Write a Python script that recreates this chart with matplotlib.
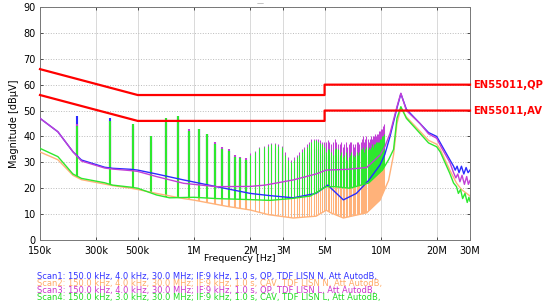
import numpy as np
import matplotlib.pyplot as plt

plt.rcParams['font.family'] = ['DejaVu Sans']

# limit lines, frequency in MHz, level in dBuV
qp_f = [0.15, 0.5, 5.0, 5.0, 30.0]
qp_db = [66, 56, 56, 60, 60]
av_f = [0.15, 0.5, 5.0, 5.0, 30.0]
av_db = [56, 46, 46, 50, 50]

# harmonic spikes of the converter (MHz)
spike_f = [0.236, 0.354, 0.472, 0.590, 0.708, 0.826, 0.944, 1.062, 1.180, 1.298,
           1.416, 1.534, 1.652, 1.770, 1.888, 2.006, 2.124, 2.242, 2.360, 2.478,
           2.596, 2.714, 2.832, 2.950, 3.068, 3.186, 3.304, 3.422, 3.540, 3.658,
           3.776, 3.894, 4.012, 4.130, 4.248, 4.366, 4.484, 4.602, 4.720, 4.838,
           4.956, 5.074, 5.192, 5.310, 5.428, 5.546, 5.664, 5.782, 5.900, 6.018,
           6.136, 6.254, 6.372, 6.490, 6.608, 6.726, 6.844, 6.962, 7.080, 7.198,
           7.316, 7.434, 7.552, 7.670, 7.788, 7.906, 8.024, 8.142, 8.260, 8.378,
           8.496, 8.614, 8.732, 8.850, 8.968, 9.086, 9.204, 9.322, 9.440, 9.558,
           9.676, 9.794, 9.912, 10.030, 10.148, 10.266, 10.384]

peak_scan1 = [48, 47, 45, 40, 47, 48, 42, 43, 41, 37, 35, 34.5, 32, 31, 31, 32.5, 34, 35, 35.5, 36,
              36, 36, 35, 35,
              30, 28, 27, 28, 29, 30,
              31, 32, 33, 34, 35, 35,
              35, 35, 34, 33, 33,
              32, 33, 33, 32, 31, 33, 33, 32,
              30, 31, 29, 30, 31, 29, 30, 31, 31, 30, 29, 30, 31, 31, 30, 31,
              32, 33, 31, 32, 33, 32, 33, 32, 33, 34, 33,
              34, 35, 35, 36, 36, 37, 37, 38, 38, 39, 40]
peak_scan2 = [42, 44, 43, 38, 45, 46, 40, 41, 39, 35, 33, 32.5, 30, 29.5, 29, 31, 32, 33.5, 34, 34.5,
              35, 35, 34.5, 34,
              31, 29, 28, 29, 30, 31,
              32, 33, 34, 35, 36, 36.5,
              36.5, 36, 35.5, 35, 34,
              32, 33, 33, 32, 31, 33, 33.5, 33,
              31, 32, 30, 31, 32, 29, 30, 31, 32, 31, 30, 31, 32, 31, 32, 33,
              33, 34, 32, 33, 34, 33, 34, 33, 34, 35, 34,
              35, 35, 36, 36, 36, 36, 37, 37, 38, 38, 39]
peak_scan3 = [45, 46, 44, 40, 46, 47, 43, 43, 41, 38, 36, 35, 33, 32, 31.5, 33.5, 34.5, 36, 36.5, 37,
              37.5, 37.5, 37, 36.5,
              34, 32, 31, 32, 33, 34,
              35, 36, 37, 38, 39, 39,
              39, 39, 38.5, 38, 38,
              38, 38.5, 38, 37, 38, 39, 38, 37,
              37, 38, 36, 37, 38, 36, 37, 38, 38, 37, 36, 37, 38, 38, 37, 38,
              39, 40, 38, 39, 40, 39, 38, 39, 40, 39, 40,
              40, 41, 40, 41, 41, 42, 42, 43, 43, 44, 45]
peak_scan4 = [44, 46, 45, 40, 47, 48, 42, 43, 41, 37, 35, 34.5, 32, 31.5, 31, 33, 34, 35.5, 36, 36.5,
              37, 37, 36.5, 36,
              33, 31, 30, 31, 32, 33,
              34, 35, 36, 37, 38, 38.5,
              38.5, 38, 37.5, 37, 36,
              34, 35, 35, 34, 33, 35, 35.5, 35,
              33, 34, 32, 33, 34, 31, 32, 33, 34, 33, 32, 33, 34, 33, 34, 35,
              35, 36, 34, 35, 36, 35, 36, 35, 36, 37, 36,
              37, 37, 38, 38, 38, 38, 39, 39, 40, 40, 41]

# trace floors (MHz, dBuV)
base1_f = [0.15, 0.187, 0.225, 0.25, 0.333, 0.367, 0.46, 0.5, 0.63, 0.88, 1.32, 2.0, 2.5, 3.4,
           4.5, 5.2, 5.6, 6.3, 7.4, 8.6, 9.9, 10.5, 11.2, 12.2, 12.8, 13.7, 16.2, 18.0, 19.9,
           21.0, 23.4, 24.5, 25.0, 25.6, 26.2, 27.0, 27.8, 28.6, 29.3, 30.0]
base1_db = [47, 41.8, 34.1, 30.9, 28.1, 27.7, 27.3, 27, 25.5, 23.2, 20.6, 18, 17.2, 16.3,
            18, 21.2, 19, 15.5, 18, 23, 29, 33, 40, 51, 56.5, 50.5, 45, 41.5, 40,
            37, 31, 28.5, 27, 28.5, 26, 28.5, 25.5, 28, 26, 27]
base2_f = [0.15, 0.187, 0.225, 0.25, 0.333, 0.367, 0.46, 0.5, 0.63, 0.88, 1.0, 1.5, 2.0, 2.5,
           3.4, 4.5, 5.1, 5.4, 6.3, 8.4, 9.9, 11.0, 11.7, 12.2, 12.8, 13.7, 16.2, 18.0, 19.9,
           20.8, 23.4, 25.4, 27.0, 30.0]
base2_db = [34, 31, 25, 23.3, 21.6, 21, 20, 19.5, 18, 16, 15.4, 13, 11.6, 9.8,
            8.5, 9.2, 11.5, 10.5, 8.5, 10.5, 15.4, 23, 33, 45, 51, 47.5, 42, 38.5, 37,
            35, 27, 22, 19.5, 17]
base3_f = [0.15, 0.187, 0.225, 0.25, 0.333, 0.367, 0.46, 0.5, 0.63, 0.88, 1.32, 2.0, 2.4, 3.4,
           4.5, 5.1, 6.6, 8.4, 9.9, 10.5, 11.2, 12.2, 12.8, 13.7, 16.2, 18.0, 19.9, 21.0, 23.4,
           24.5, 25.2, 25.8, 26.5, 27.2, 28.0, 28.8, 29.4, 30.0]
base3_db = [47, 41.8, 34.1, 30.5, 27.8, 27.4, 26.8, 26.5, 24.5, 21.9, 20.6, 20.7, 21.2, 23.2,
            25.5, 27, 27.3, 28, 32.8, 36, 41.2, 51.5, 56.7, 50, 45, 41, 39.3, 36, 30,
            26, 24, 25.5, 22.5, 25, 21.5, 24.5, 21.5, 23]
base4_f = [0.15, 0.187, 0.225, 0.25, 0.333, 0.367, 0.46, 0.5, 0.63, 0.74, 1.0, 1.32, 2.0, 2.55,
           3.4, 4.2, 5.1, 5.7, 6.8, 8.6, 10.2, 11.0, 11.7, 12.2, 12.8, 13.7, 16.2, 18.0, 19.9,
           20.8, 23.4, 24.5, 25.4, 26.0, 26.7, 27.4, 28.2, 29.0, 29.6, 30.0]
base4_db = [35.4, 32.2, 25.5, 23.8, 22.1, 21.2, 20.4, 20, 17.4, 16.3, 16.5, 16, 15.6, 15.3,
            16.1, 17, 20.6, 20.6, 20, 22, 27, 31, 35, 47, 51.5, 47, 41.2, 37.5, 36,
            34, 25.7, 22, 20.6, 18, 19.5, 16, 18, 14.5, 16.5, 15]

scan_labels = [
    "Scan1: 150.0 kHz, 4.0 kHz, 30.0 MHz; IF:9 kHz, 1.0 s, QP, TDF LISN N, Att AutodB,",
    "Scan2: 150.0 kHz, 4.0 kHz, 30.0 MHz; IF:9 kHz, 1.0 s, CAV, TDF LISN N, Att AutodB,",
    "Scan3: 150.0 kHz, 4.0 kHz, 30.0 MHz; IF:9 kHz, 1.0 s, QP, TDF LISN L, Att AutodB,",
    "Scan4: 150.0 kHz, 3.0 kHz, 30.0 MHz; IF:9 kHz, 1.0 s, CAV, TDF LISN L, Att AutodB,",
]
scan_colors = ['#2b2bff', '#ffb27a', '#c23fd6', '#2ee82e']
label_colors = ['#3333ff', '#ffaa66', '#cc33cc', '#22dd22']

xticks = [0.15, 0.3, 0.5, 1, 2, 3, 5, 10, 20, 30]
xtick_labels = ['150k', '300k', '500k', '1M', '2M', '3M', '5M', '10M', '20M', '30M']

fig = plt.figure(figsize=(5.5, 3.06), dpi=100)
ax = fig.add_axes([40 / 550, 1 - 240 / 306, 430 / 550, 233 / 306])
ax.set_xscale('log')
ax.set_xlim(0.15, 30)
ax.set_ylim(0, 90)

scans = [
    (base1_f, base1_db, peak_scan1),
    (base2_f, base2_db, peak_scan2),
    (base3_f, base3_db, peak_scan3),
    (base4_f, base4_db, peak_scan4),
]

# isolated spikes are drawn wider than the packed ones above 2 MHz
spike_lw = [1.5 if f < 2.0 else 0.75 for f in spike_f]

# spikes first, each clipped to the area above its own floor
for (bf, bdb, pk), col in zip(scans, scan_colors):
    lc = ax.vlines(spike_f, 0, pk, colors=col, linewidths=spike_lw, zorder=2)
    poly = ax.fill_between(bf, bdb, 95, facecolor='none', edgecolor='none')
    lc.set_clip_path(poly.get_paths()[0], ax.transData)
    poly.remove()

# floors on top
for (bf, bdb, pk), col in zip(scans, scan_colors):
    ax.plot(bf, bdb, color=col, lw=1.0, zorder=3)

ax.plot(qp_f, qp_db, color='#ff0000', lw=1.6, zorder=4, clip_on=False)
ax.plot(av_f, av_db, color='#ff0000', lw=1.6, zorder=4, clip_on=False)
fig.text(473 / 550, 1 - 85 / 306, 'EN55011,QP', color='#ff0000', fontsize=7.2,
         fontweight='bold', va='center', ha='left')
fig.text(473 / 550, 1 - 111 / 306, 'EN55011,AV', color='#ff0000', fontsize=7.2,
         fontweight='bold', va='center', ha='left')

ax.set_xticks(xticks)
ax.set_xticklabels(xtick_labels)
ax.minorticks_off()
ax.set_yticks(range(0, 91, 10))
ax.tick_params(labelsize=7, direction='in', length=2.5, width=0.6,
               top=True, right=True, pad=3, colors='#333333', labelcolor='black')
ax.tick_params(axis='x', pad=4)
ax.grid(True, axis='x', color='#d9d9d9', lw=0.7, ls='-')
ax.grid(True, axis='y', color='#bbbbbb', lw=0.7, ls=':')
ax.set_axisbelow(True)
for sp in ax.spines.values():
    sp.set_color('#777777')
    sp.set_linewidth(0.7)

ax.set_ylabel('Magnitude [dBµV]', fontsize=7, labelpad=3)
ax.set_xlabel('Frequency [Hz]', fontsize=6.8)
ax.xaxis.set_label_coords((240 - 40) / 430, -0.058)

fig.text(260 / 550, 1 - 3 / 306, '—', color='#888888', fontsize=5, ha='center', va='center')

for i, (txt, col) in enumerate(zip(scan_labels, label_colors)):
    fig.text(37 / 550, 1 - (276.7 + 7 * i) / 306, txt, color=col, fontsize=6.0,
             va='center', ha='left')

fig.savefig('out.png', dpi=100)
